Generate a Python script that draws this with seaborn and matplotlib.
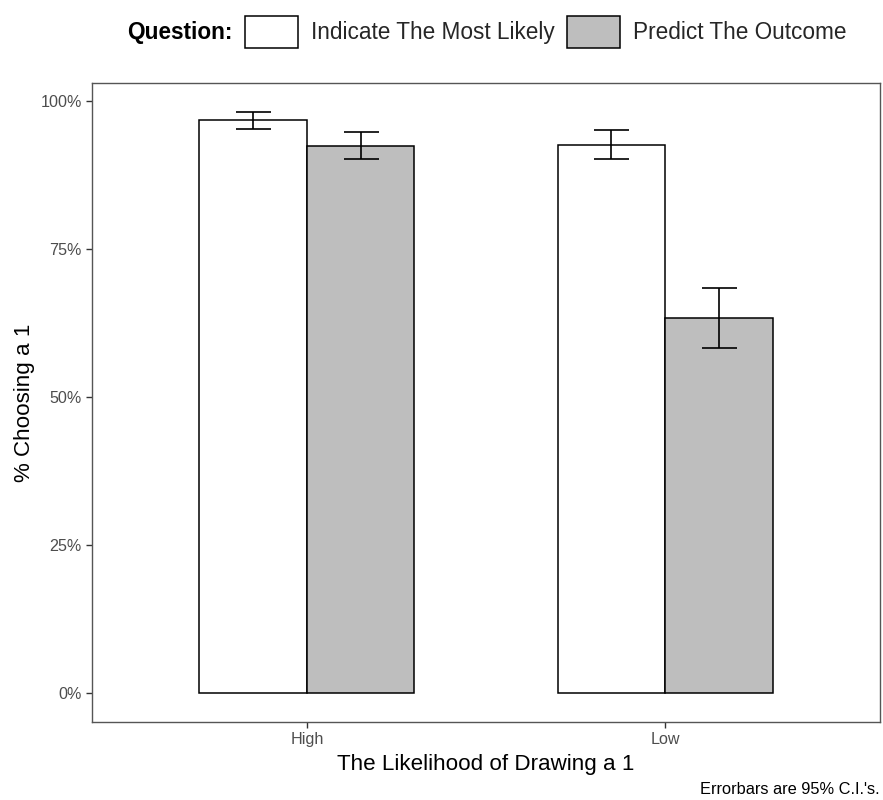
import matplotlib
matplotlib.use("Agg")
import matplotlib.pyplot as plt
import matplotlib.patches as mpatches
from matplotlib.ticker import FuncFormatter
import seaborn as sns
import pandas as pd

# Proportion choosing "1", by likelihood condition and question wording
likelihood = ["High", "High", "Low", "Low"]
question = ["Indicate The Most Likely", "Predict The Outcome",
            "Indicate The Most Likely", "Predict The Outcome"]
pct = [96.7, 92.4, 92.6, 63.3]
ci_low = [95.2, 90.1, 90.2, 58.3]
ci_high = [98.1, 94.8, 95.0, 68.3]

question_levels = ["Indicate The Most Likely", "Predict The Outcome"]
likelihood_levels = ["High", "Low"]
fill_colors = ["white", "#BEBEBE"]

df = pd.DataFrame({"likelihood": likelihood, "question": question, "pct": pct,
                   "lo": ci_low, "hi": ci_high})

sns.set_theme(style="white")
plt.rcParams["font.family"] = ["Liberation Sans", "DejaVu Sans"]

fig = plt.figure(figsize=(8.83, 8.00), dpi=100)
ax = fig.add_axes([92 / 883, 78 / 800, 788 / 883, 639 / 800])

sns.barplot(data=df, x="likelihood", y="pct", hue="question",
            order=likelihood_levels, hue_order=question_levels,
            palette=fill_colors, edgecolor="black", linewidth=1.1,
            width=0.6, errorbar=None, legend=False, ax=ax)

# 95% confidence intervals on each bar
for level, container in zip(question_levels, ax.containers):
    for cat, bar in zip(likelihood_levels, container):
        row = df[(df.likelihood == cat) & (df.question == level)].iloc[0]
        xc = bar.get_x() + bar.get_width() / 2
        ax.errorbar(xc, row.pct, yerr=[[row.pct - row.lo], [row.hi - row.pct]],
                    fmt="none", ecolor="black", elinewidth=1.2,
                    capsize=12.6, capthick=1.2, zorder=5)

ax.set_xlim(-0.6, 1.6)
ax.set_ylim(-4.9, 103.0)
ax.set_yticks([0, 25, 50, 75, 100])
ax.yaxis.set_major_formatter(FuncFormatter(lambda v, _: f"{v:.0f}%"))

for side in ax.spines.values():
    side.set_color("#555555")
    side.set_linewidth(1.0)
ax.tick_params(axis="both", which="major", length=4.3, width=1.0,
               color="#333333", labelcolor="#4D4D4D", labelsize=11.6,
               bottom=True, left=True, pad=3)

ax.set_xlabel("The Likelihood of Drawing a 1", fontsize=16.1, color="black",
              labelpad=5)
ax.set_ylabel("% Choosing a 1", fontsize=16.1, color="black", labelpad=4)

# Legend across the top
handles = [mpatches.Patch(facecolor=c, edgecolor="black", linewidth=1.1)
           for c in fill_colors]
fig.legend(handles, question_levels, loc="center left",
           bbox_to_anchor=(245 / 883, 1 - 32 / 800), ncol=2, frameon=False,
           fontsize=16.3, handlelength=2.34, handleheight=1.77,
           handletextpad=0.58, columnspacing=0.53, borderpad=0,
           borderaxespad=0)
fig.text(233 / 883, 1 - 33 / 800, "Question:", ha="right", va="center",
         fontsize=16.3, fontweight="bold", color="black")

fig.text(880 / 883, 1 - 789 / 800, "Errorbars are 95% C.I.'s.", ha="right",
         va="center", fontsize=11.8, color="black")

fig.savefig("out.png", dpi=100, facecolor="white")
